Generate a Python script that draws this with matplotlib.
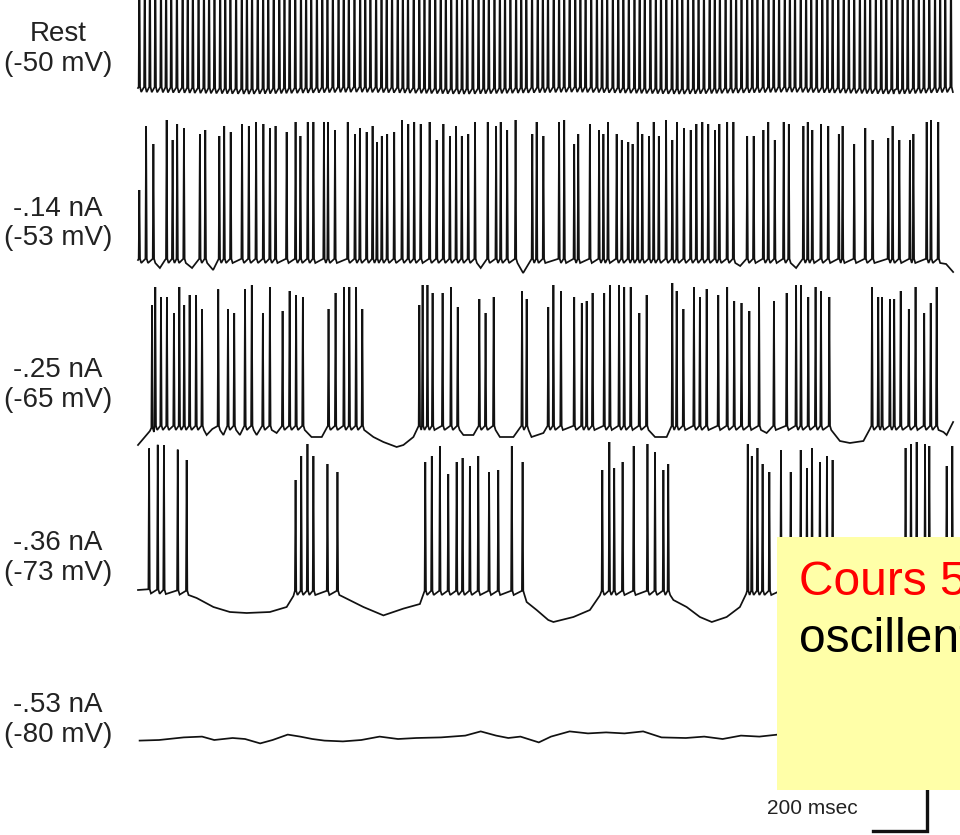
import matplotlib
matplotlib.use("Agg")
import matplotlib.pyplot as plt
import numpy as np
from matplotlib.patches import Rectangle

plt.rcParams['font.family'] = ['Liberation Sans', 'DejaVu Sans']

T_END = 3016.0          # ms, length of each sweep

# --- trace labels -----------------------------------------------------------
CURRENTS = ["Rest", "-.14 nA", "-.25 nA", "-.36 nA", "-.53 nA"]
HOLDING = ["(-50 mV)", "(-53 mV)", "(-65 mV)", "(-73 mV)", "(-80 mV)"]

# --- Rest: tonic firing (peaks run off the top of the figure) ---------------
REST_SPIKES = [5, 25, 44, 64, 85, 104, 123, 144, 165, 184, 203, 224, 244, 263,
               283, 304, 323, 342, 363, 384, 403, 422, 443, 463, 482, 502, 523,
               542, 561, 582, 603, 622, 641, 662, 682, 701, 721, 742, 761, 780,
               801, 822, 841, 860, 881, 901, 920, 940, 961, 980, 999, 1020,
               1041, 1060, 1079, 1100, 1120, 1139, 1159, 1180, 1199, 1218,
               1239, 1260, 1279, 1298, 1319, 1339, 1358, 1378, 1399, 1418,
               1437, 1458, 1479, 1498, 1517, 1538, 1558, 1577, 1597, 1618,
               1637, 1656, 1677, 1698, 1717, 1736, 1757, 1777, 1796, 1816,
               1837, 1856, 1875, 1896, 1916, 1935, 1955, 1976, 1995, 2014,
               2035, 2055, 2074, 2094, 2115, 2134, 2153, 2174, 2194, 2213,
               2233, 2254, 2273, 2292, 2313, 2333, 2352, 2372, 2393, 2412,
               2431, 2452, 2472, 2491, 2511, 2532, 2551, 2570, 2591, 2611,
               2630, 2650, 2671, 2690, 2709, 2730, 2750, 2769, 2789, 2810,
               2829, 2848, 2869, 2889, 2908, 2928, 2949, 2968, 2987, 3008]
REST_AMP = 70
REST_BASE_T = [0, 400, 800, 1200, 1600, 2000, 2400, 2800, 3016]
REST_BASE_V = [0, -1, 0, -1, 0, -1, 0, -1, 0]

# --- -.14 nA -----------------------------------------------------------------
T2_SPIKES = [5, 30, 57, 106, 128, 145, 170, 229, 249, 301, 319, 343, 385, 410,
             437, 464, 488, 509, 550, 583, 601, 628, 649, 688, 703, 729, 776,
             803, 821, 846, 868, 884, 902, 922, 948, 977, 1000, 1022, 1046,
             1079, 1105, 1130, 1154, 1177, 1198, 1222, 1247, 1294, 1325, 1342,
             1366, 1397, 1459, 1475, 1500, 1558, 1577, 1614, 1629, 1672, 1706,
             1722, 1739, 1771, 1790, 1814, 1830, 1849, 1866, 1891, 1908, 1927,
             1954, 1977, 1994, 2020, 2045, 2066, 2088, 2110, 2135, 2151, 2180,
             2203, 2254, 2278, 2314, 2332, 2356, 2389, 2408, 2462, 2478, 2495,
             2527, 2554, 2593, 2607, 2650, 2691, 2718, 2776, 2792, 2817, 2856,
             2869, 2918, 2934, 2961]
T2_AMPS = [35, 67, 58, 70, 60, 68, 66, 63, 65, 62, 67, 64, 68, 67, 69, 68, 66,
           67, 64, 69, 62, 69, 69, 69, 69, 65, 69, 63, 66, 64, 67, 59, 62, 63,
           64, 70, 68, 69, 68, 69, 60, 68, 62, 67, 62, 63, 69, 69, 67, 69, 65,
           70, 63, 69, 62, 69, 70, 58, 63, 68, 65, 63, 69, 63, 60, 59, 58, 69,
           63, 62, 69, 62, 70, 60, 69, 66, 65, 68, 69, 68, 65, 68, 69, 69, 62,
           62, 65, 69, 60, 69, 68, 67, 69, 65, 68, 67, 63, 67, 58, 66, 60, 61,
           67, 60, 60, 63, 69, 70, 69]
T2_BASE_T = [0, 60, 81, 100, 175, 200, 225, 255, 278, 298, 1250, 1268, 1290,
             1400, 1425, 1455, 2206, 2228, 2250, 2410, 2435, 2458, 2962, 2990,
             3016]
T2_BASE_V = [0, 0, -4, 0, 0, -4, 0, 0, -5, 0, 0, -4, 0, 0, -6.5, 0, 0, -3, 0,
             0, -4, 0, 0, -2, -6]

# --- -.25 nA -----------------------------------------------------------------
T3_SPIKES = [52, 64, 85, 107, 133, 153, 171, 191, 215, 237, 297, 333, 356, 396,
             421, 462, 488, 535, 561, 585, 610, 705, 731, 762, 782, 807, 830,
             1041, 1053, 1071, 1090, 1127, 1158, 1183, 1263, 1286, 1316, 1421,
             1438, 1518, 1537, 1565, 1614, 1642, 1660, 1682, 1725, 1746, 1780,
             1799, 1823, 1855, 1882, 1977, 1993, 2018, 2057, 2079, 2104, 2147,
             2180, 2206, 2233, 2262, 2298, 2353, 2400, 2435, 2453, 2480, 2507,
             2527, 2558, 2716, 2739, 2753, 2782, 2798, 2822, 2852, 2877, 2909,
             2933, 2955]
T3_AMPS = [62, 70, 65, 65, 57, 70, 61, 66, 66, 59, 69, 59, 57, 69, 71, 57, 70,
           58, 68, 66, 65, 59, 67, 70, 70, 70, 59, 61, 71, 71, 67, 67, 70, 60,
           64, 57, 65, 68, 64, 60, 71, 68, 65, 62, 63, 67, 67, 71, 71, 70, 70,
           57, 66, 72, 68, 59, 70, 65, 69, 66, 70, 63, 62, 58, 70, 63, 67, 71,
           71, 65, 70, 68, 65, 70, 65, 65, 64, 64, 68, 59, 70, 57, 62, 70]
T3_BASE_T = [0, 44, 60, 240, 254, 275, 300, 316, 330, 360, 377, 392, 425, 439,
             458, 492, 513, 530, 615, 642, 680, 700, 835, 871, 908, 957, 982,
             1019, 1037, 1186, 1204, 1241, 1260, 1320, 1339, 1389, 1418, 1440,
             1456, 1500, 1515, 1885, 1913, 1956, 1975, 2300, 2326, 2350, 2560,
             2597, 2634, 2684, 2708, 2716, 2955, 2980, 2992, 3016]
T3_BASE_V = [-9, -2, 0, 0, -4, -1, 0, -4, 0, 0, -4, 0, 0, -4, 0, 0, -3, 0, 0,
             -5, -5, 0, 0, -5, -7.5, -10, -9, -5, 0, 0, -4, -4, 0, 0, -5, -5,
             0, 0, -5, -3, 0, 0, -5, -5, 0, 0, -3, 0, 0, -7, -8, -7, -1, 0, 0,
             -2.5, -4, 2.5]

# --- -.36 nA -----------------------------------------------------------------
T4_SPIKES = [41, 73, 96, 147, 180, 583, 604, 627, 649, 701, 738, 1063, 1087,
             1117, 1148, 1179, 1201, 1228, 1259, 1299, 1333, 1383, 1423, 1718,
             1744, 1762, 1793, 1834, 1885, 1913, 1944, 1962, 2256, 2271, 2292,
             2311, 2336, 2379, 2415, 2452, 2475, 2494, 2523, 2549, 2570, 2840,
             2860, 2881, 2912, 2928, 2992, 3013]
T4_AMPS = [71, 73, 73, 71, 66, 56, 68, 74, 68, 64, 60, 65, 68, 73, 59, 65, 67,
           63, 68, 60, 61, 73, 65, 61, 75, 62, 65, 73, 74, 70, 61, 64, 74, 68,
           72, 64, 60, 71, 60, 71, 62, 72, 65, 68, 66, 72, 74, 75, 74, 73, 63,
           73]
T4_BASE_T = [0, 180, 217, 279, 340, 402, 488, 550, 575, 583, 738, 760, 834,
             908, 982, 1043, 1063, 1423, 1438, 1475, 1518, 1537, 1611, 1672,
             1709, 1718, 1962, 1981, 2030, 2079, 2123, 2178, 2227, 2250, 2256,
             2570, 2600, 2700, 2800, 2835, 2840, 3016]
T4_BASE_V = [1, 0, -3, -7.5, -10, -10.5, -10, -7.5, -2, 0, 0, -2.5, -7.5,
             -11.7, -8.3, -6, 0, 0, -5, -9, -14, -15, -12.5, -9, -1.7, 0, 0,
             -4, -7.5, -12.5, -15, -12.5, -7.5, -1, 0, 0, -5, -13, -8, -1, 0, 0]

# --- -.53 nA: silent, slow wander only ---------------------------------------
T5_BASE_T = [6, 78, 169, 237, 282, 350, 396, 452, 498, 554, 600, 645, 690, 758,
             826, 894, 962, 1030, 1121, 1211, 1268, 1325, 1370, 1415, 1483,
             1528, 1597, 1665, 1732, 1800, 1869, 1937, 2027, 2095, 2163, 2231,
             2299, 2367, 2500, 2700, 3016]
T5_BASE_V = [-0.8, -0.5, 0.8, 1.2, -0.5, 0.5, 0, -2.2, -0.5, 2.2, 1.2, 0, -0.8,
             -1.2, -0.5, 1.2, 0, 0.5, 0.8, 1.7, 3.8, 1.7, 0.5, 1.2, -1.7, 1.2,
             3.8, 2.8, 3.3, 2.8, 3.8, 0.8, 0.5, 1.2, 0, 1.7, 1.2, 2.2, 1, 0, 0]


def build_trace(spikes, amps, base_t, base_v, ahp=1.5):
    """Polyline of a voltage sweep: slow baseline knots plus a spike glyph
    at every spike time, sitting on the baseline."""
    spikes = np.asarray(spikes, float)
    amps = np.broadcast_to(np.asarray(amps, float), spikes.shape)
    bt = np.asarray(base_t, float)
    bv = np.asarray(base_v, float)
    pts = []
    if spikes.size:
        foot = np.interp(spikes, bt, bv)
        for t, a, b in zip(spikes, amps, foot):
            pts += [(t - 2.5, b + 0.6), (t, b + a), (t + 2.5, b + 0.6),
                    (t + 7.0, b - ahp)]
    for t, v in zip(bt, bv):
        if spikes.size == 0 or np.all((t < spikes - 4) | (t > spikes + 9)):
            pts.append((t, v))
    pts.sort()
    x, y = np.array(pts).T
    keep = (x >= 0) & (x <= T_END)
    return x[keep], y[keep]


traces = [
    build_trace(REST_SPIKES, REST_AMP, REST_BASE_T, REST_BASE_V, ahp=2.0),
    build_trace(T2_SPIKES, T2_AMPS, T2_BASE_T, T2_BASE_V),
    build_trace(T3_SPIKES, T3_AMPS, T3_BASE_T, T3_BASE_V),
    build_trace(T4_SPIKES, T4_AMPS, T4_BASE_T, T4_BASE_V),
    build_trace([], [], T5_BASE_T, T5_BASE_V),
]

# vertical placement of each sweep (plot units: mV, 1 mV = 2 px)
OFFSETS = [-44, -130, -213.5, -296, -369.5]
LABEL_Y = [49, 223.5, 385, 558, 720]      # px from top, centre of label pair

W, H = 960, 835
fig = plt.figure(figsize=(W / 100, H / 100), dpi=100)
ax = fig.add_axes([0, 0, 1, 1])
ax.set_xlim(-138 * 3.7, (W - 138) * 3.7)
ax.set_ylim(-H / 2, 0)
ax.axis("off")

for (x, y), off in zip(traces, OFFSETS):
    ax.plot(x, y + off, color="#111111", lw=1.25, solid_joinstyle="miter",
            zorder=2)

for cur, hold, ly in zip(CURRENTS, HOLDING, LABEL_Y):
    fig.text(58 / W, 1 - ly / H, f"{cur}\n{hold}", ha="center", va="center",
             multialignment="center", fontsize=20, color="#222222",
             linespacing=1.18)

# scale bars: 200 ms, 20 mV
sx, sy = 2720, -415.5
ax.plot([sx, sx + 200, sx + 200], [sy, sy, sy + 20], color="#111111",
        lw=2.4, solid_joinstyle="miter", zorder=2)
ax.text(sx - 225, -404, "200 msec", ha="center", va="center", fontsize=15,
        color="#222222")

# yellow note box over the lower right corner (runs off the page, as in
# the source slide)
box = Rectangle((777 / W, 1 - 790 / H), 0.3, 253 / H, transform=fig.transFigure,
                facecolor="#FFFFA8", edgecolor="none", zorder=5, clip_on=False)
ax.add_patch(box)
fig.text(799 / W, 1 - 595 / H, "Cours 5", color="#FF0000", fontsize=34.5,
         va="baseline", ha="left", zorder=6)
fig.text(799 / W, 1 - 652 / H, "oscillent", color="black", fontsize=34.5,
         va="baseline", ha="left", zorder=6)

fig.savefig("out.png", dpi=100)
